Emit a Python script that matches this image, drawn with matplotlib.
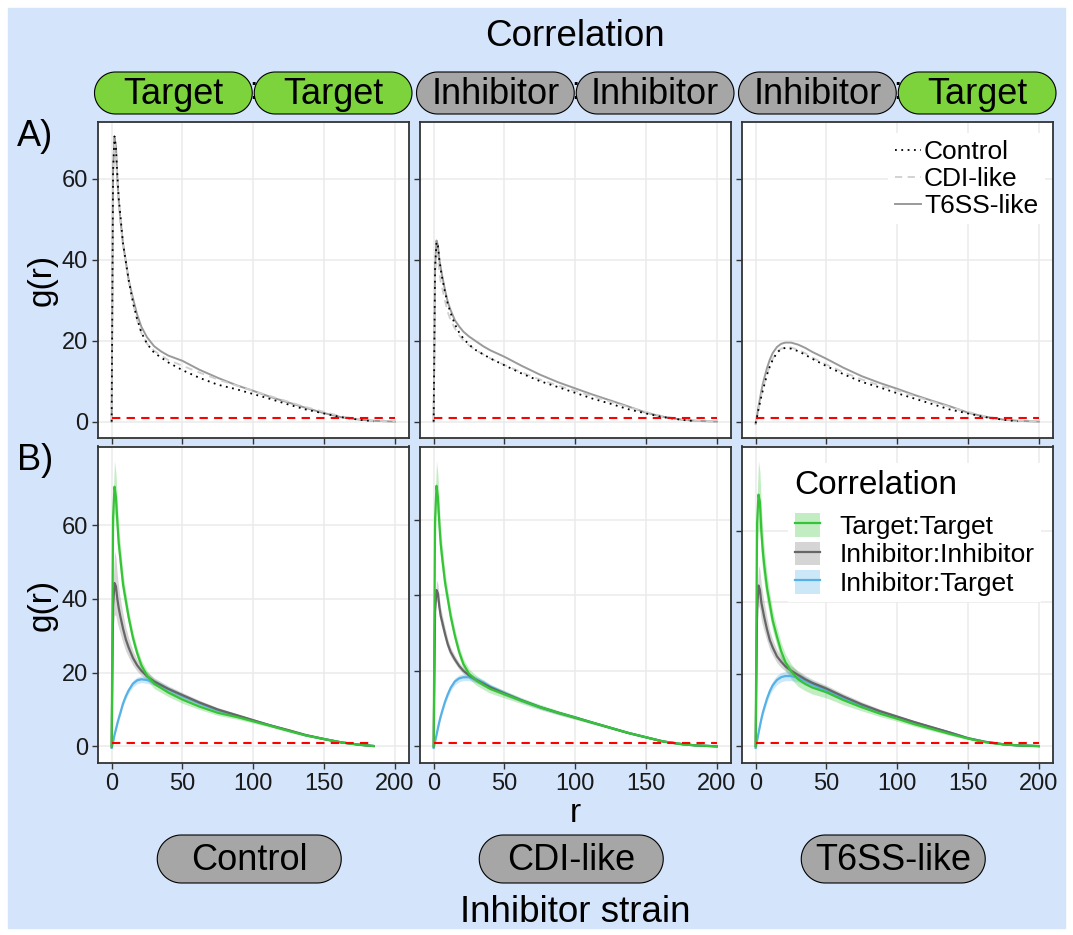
import numpy as np
import matplotlib
matplotlib.use('Agg')
import matplotlib.pyplot as plt
from matplotlib.patches import Polygon, Rectangle, Patch
from matplotlib.lines import Line2D

plt.rcParams['font.family'] = ['Liberation Sans', 'DejaVu Sans']

# radial distance grid; the control runs stop at r = 185
r = [0, 1, 2, 3, 4, 5, 6, 8, 10, 12, 15, 18, 21, 25, 30, 35, 40, 50, 62, 75,
     88, 100, 112, 125, 137, 150, 162, 175, 185, 200]
r_control = r[:-1]

strains = ['Control', 'CDI-like', 'T6SS-like']
pairs = ['Target:Target', 'Inhibitor:Inhibitor', 'Inhibitor:Target']
pair_strips = [('Target', 'Target'), ('Inhibitor', 'Inhibitor'), ('Inhibitor', 'Target')]

# mean g(r), Target:Target
tt_control = [0, 62, 70.4, 67.7, 61, 55, 51.5, 44, 39.5, 35, 29.5, 25.3, 22, 19.2, 17, 15.8,
              14.6, 12.7, 10.8, 9.1, 8.0, 6.8, 5.6, 4.2, 3.0, 2.0, 1.1, 0.45, 0.1]
tt_cdi = [0, 60, 69, 66, 59, 53.5, 50, 43.5, 39, 34.5, 29.3, 25, 21.8, 19.2, 17.5, 16.3,
          15.2, 13.8, 12.1, 10.4, 8.9, 7.6, 6.3, 4.9, 3.6, 2.4, 1.3, 0.6, 0.25, 0]
tt_t6ss = [0, 62, 70, 68, 60, 54.5, 50.5, 44, 39.5, 35, 30.5, 26.4, 23.4, 20.8, 18.6, 17.3,
           16.3, 15.0, 12.8, 10.8, 9.0, 7.6, 6.1, 4.7, 3.4, 2.1, 1.1, 0.5, 0.2, 0]

# mean g(r), Inhibitor:Inhibitor
ii_control = [0, 38, 44.3, 43.4, 40, 37.5, 35.5, 32, 29, 26.8, 24, 22, 20.5, 19, 17.6, 16.6,
              15.6, 13.9, 11.9, 10, 8.5, 7.1, 5.7, 4.4, 3.1, 2.0, 1.1, 0.45, 0.1]
ii_cdi = [0, 36, 41.4, 40.5, 37, 34.5, 33, 29.8, 27, 25, 23, 21.3, 20, 18.8, 17.6, 16.6,
          15.6, 14, 12.2, 10.4, 8.9, 7.6, 6.3, 4.9, 3.6, 2.4, 1.3, 0.6, 0.25, 0]
ii_t6ss = [0, 38, 44.7, 43.5, 40, 38, 36, 32.5, 29.5, 27.5, 25, 23.5, 22.2, 21, 19.8, 18.6,
           17.6, 16.0, 13.8, 11.6, 9.7, 8.2, 6.7, 5.2, 3.8, 2.2, 1.2, 0.5, 0.2, 0]

# mean g(r), Inhibitor:Target
it_control = [-0.4, 1.2, 3.1, 4.6, 6.2, 7.6, 8.9, 11.6, 13.6, 15.2, 17, 17.9, 18.2, 18.0, 17.4,
              16.5, 15.5, 13.7, 11.7, 9.8, 8.4, 7.0, 5.7, 4.3, 3.0, 2.0, 1.1, 0.45, 0.1]
it_cdi = [-0.4, 1.3, 3, 4.8, 6.5, 8, 9.3, 11.8, 13.8, 15.5, 17.2, 18, 18.3, 18.3, 17.7, 16.9,
          15.8, 14.1, 12.2, 10.4, 8.9, 7.7, 6.3, 4.9, 3.6, 2.4, 1.3, 0.6, 0.25, 0]
it_t6ss = [-0.5, 1.5, 3.6, 5.6, 7.5, 9.2, 10.6, 13.2, 15.3, 16.9, 18.4, 19.2, 19.5, 19.5, 19.0,
           18.2, 17.2, 15.5, 13.3, 11.2, 9.5, 8.1, 6.6, 5.1, 3.8, 2.2, 1.2, 0.5, 0.2, 0]

# half-width of the confidence band around each mean
tt_control_se = [0, 5, 7, 6.5, 5.5, 4.5, 4, 3, 2.5, 2, 1.7, 1.5, 1.4, 1.3, 1.3, 1.2, 1.1, 1.0,
                 0.8, 0.7, 0.6, 0.5, 0.4, 0.35, 0.3, 0.25, 0.2, 0.15, 0.1]
tt_cdi_se = [0, 5, 6.6, 6, 5, 4.2, 3.6, 2.8, 2.3, 2, 1.7, 1.5, 1.4, 1.3, 1.3, 1.2, 1.1, 1.0,
             0.8, 0.7, 0.6, 0.5, 0.4, 0.35, 0.3, 0.25, 0.2, 0.15, 0.1, 0.1]
tt_t6ss_se = [0, 7, 9.4, 8.5, 7, 6, 5, 4, 3.2, 2.8, 2.5, 2.3, 2.2, 2.1, 2.0, 1.9, 1.8, 1.6,
              1.3, 1.0, 0.8, 0.7, 0.6, 0.5, 0.4, 0.3, 0.25, 0.2, 0.15, 0.1]
ii_control_se = [0, 6, 8.6, 8, 6.5, 5.5, 4.8, 4, 3.2, 2.6, 2, 1.6, 1.3, 1.1, 1.0, 0.9, 0.8,
                 0.7, 0.6, 0.5, 0.45, 0.4, 0.35, 0.3, 0.25, 0.2, 0.15, 0.1, 0.1]
ii_cdi_se = [0, 2, 2.6, 2.6, 2.4, 2.2, 2, 1.7, 1.4, 1.2, 1.0, 0.9, 0.8, 0.8, 0.7, 0.7, 0.6,
             0.6, 0.5, 0.45, 0.4, 0.35, 0.3, 0.25, 0.2, 0.2, 0.15, 0.1, 0.1, 0.1]
ii_t6ss_se = [0, 4.5, 5.6, 5.5, 5, 4.5, 4, 3.2, 2.6, 2.2, 1.8, 1.6, 1.4, 1.3, 1.2, 1.1, 1.0,
              0.9, 0.8, 0.7, 0.6, 0.5, 0.4, 0.35, 0.3, 0.25, 0.2, 0.15, 0.1, 0.1]
it_control_se = [0.2, 0.3, 0.4, 0.5, 0.6, 0.6, 0.7, 0.7, 0.8, 0.8, 0.9, 0.9, 0.9, 0.9, 0.8,
                 0.8, 0.7, 0.6, 0.5, 0.45, 0.4, 0.35, 0.3, 0.25, 0.2, 0.2, 0.15, 0.1, 0.1]
it_cdi_se = [0.2, 0.3, 0.4, 0.5, 0.6, 0.6, 0.7, 0.7, 0.8, 0.8, 0.9, 0.9, 0.9, 0.9, 0.8,
             0.8, 0.7, 0.6, 0.5, 0.45, 0.4, 0.35, 0.3, 0.25, 0.2, 0.2, 0.15, 0.1, 0.1, 0.1]
it_t6ss_se = [0.2, 0.4, 0.5, 0.6, 0.7, 0.8, 0.9, 1.0, 1.1, 1.2, 1.3, 1.3, 1.3, 1.3, 1.2, 1.1,
              1.0, 0.9, 0.7, 0.6, 0.5, 0.4, 0.35, 0.3, 0.25, 0.2, 0.15, 0.1, 0.1, 0.1]

csr_level = 1  # g(r) of complete spatial randomness

curves = {
    ('Target:Target', 'Control'): (r_control, tt_control, tt_control_se),
    ('Target:Target', 'CDI-like'): (r, tt_cdi, tt_cdi_se),
    ('Target:Target', 'T6SS-like'): (r, tt_t6ss, tt_t6ss_se),
    ('Inhibitor:Inhibitor', 'Control'): (r_control, ii_control, ii_control_se),
    ('Inhibitor:Inhibitor', 'CDI-like'): (r, ii_cdi, ii_cdi_se),
    ('Inhibitor:Inhibitor', 'T6SS-like'): (r, ii_t6ss, ii_t6ss_se),
    ('Inhibitor:Target', 'Control'): (r_control, it_control, it_control_se),
    ('Inhibitor:Target', 'CDI-like'): (r, it_cdi, it_cdi_se),
    ('Inhibitor:Target', 'T6SS-like'): (r, it_t6ss, it_t6ss_se),
}

strain_style = {
    'Control': dict(color='black', linestyle=(0, (1, 2.5)), linewidth=1.3, zorder=4),
    'CDI-like': dict(color='#cfcfcf', linestyle=(0, (4, 3)), linewidth=1.3, zorder=3),
    'T6SS-like': dict(color='#9a9a9a', linestyle='-', linewidth=1.4, zorder=2),
}
pair_colour = {'Target:Target': '#35c435', 'Inhibitor:Inhibitor': '#666666',
               'Inhibitor:Target': '#56b1e6'}
pair_band = {'Target:Target': '#35c435', 'Inhibitor:Inhibitor': '#777777',
             'Inhibitor:Target': '#56b1e6'}
pill_colour = {'Target': '#7dd33c', 'Inhibitor': '#a6a6a6'}

W, H = 1073, 935
fig = plt.figure(figsize=(W / 100, H / 100), dpi=100)
fig.patch.set_facecolor('white')

# pixel-space overlay for background, strips and outer labels
ov = fig.add_axes([0, 0, 1, 1], zorder=-1)
ov.set_xlim(0, W)
ov.set_ylim(H, 0)
ov.axis('off')
ov.add_patch(Rectangle((8, 8), W - 16, H - 15, color='#d4e4fa', zorder=0))


def pill(x0, y0, w, h, fc):
    # stadium outline: straight sides with half-circle ends
    rad = h / 2
    t = np.linspace(-np.pi / 2, np.pi / 2, 40)
    right = np.column_stack([x0 + w - rad + rad * np.cos(t), y0 + rad + rad * np.sin(t)])
    left = np.column_stack([x0 + rad - rad * np.cos(t), y0 + rad - rad * np.sin(t)])
    ov.add_patch(Polygon(np.vstack([right, left]), closed=True, facecolor=fc,
                         edgecolor='black', linewidth=0.8, zorder=2))


col_x = [97.5, 419.5, 741.5]
col_w = 311.5
row_y = [(122, 438), (446.5, 763)]


def px_axes(x0, y0, y1, **kw):
    return fig.add_axes([x0 / W, 1 - y1 / H, col_w / W, (y1 - y0) / H], **kw)


def style_panel(ax):
    ax.set_facecolor('white')
    ax.grid(True, color='#ebebeb', linewidth=1.1)
    ax.set_axisbelow(True)
    for s in ax.spines.values():
        s.set_color('#333333')
        s.set_linewidth(1.3)
    ax.set_xticks([0, 50, 100, 150, 200])
    ax.set_yticks([0, 20, 40, 60])
    ax.tick_params(direction='out', length=4, width=1, color='#333333',
                   labelsize=17, labelcolor='#1a1a1a', pad=3)


axes_a, axes_b = [], []
for i in range(3):
    kw = {}
    if axes_a:
        kw = dict(sharex=axes_a[0], sharey=axes_a[0])
    axes_a.append(px_axes(col_x[i], *row_y[0], **kw))
for i in range(3):
    axes_b.append(px_axes(col_x[i], *row_y[1], sharex=axes_a[0]))

# row A: one panel per correlation, one line per inhibitor strain
for ax, pair in zip(axes_a, pairs):
    style_panel(ax)
    for strain in strains:
        rr, g, se = curves[(pair, strain)]
        ax.plot(rr, g, label=strain, **strain_style[strain])
    ax.plot([r[0], r[-1]], [csr_level, csr_level], color='red', linewidth=1.5,
            linestyle=(0, (4, 3)), zorder=5)
    ax.tick_params(labelbottom=False)

# row B: one panel per inhibitor strain, one band + line per correlation
for ax, strain in zip(axes_b, strains):
    style_panel(ax)
    for pair in pairs:
        rr, g, se = curves[(pair, strain)]
        lo = [m - s for m, s in zip(g, se)]
        hi = [m + s for m, s in zip(g, se)]
        ax.fill_between(rr, lo, hi, color=pair_band[pair], alpha=0.3, linewidth=0, zorder=1)
    for pair in ['Inhibitor:Target', 'Inhibitor:Inhibitor', 'Target:Target']:
        rr, g, se = curves[(pair, strain)]
        ax.plot(rr, g, color=pair_colour[pair], linewidth=1.6, zorder=3)
    rr = curves[('Target:Target', strain)][0]
    ax.plot([rr[0], rr[-1]], [csr_level, csr_level], color='red', linewidth=1.5,
            linestyle=(0, (4, 3)), zorder=5)

for ax in axes_a[1:] + axes_b[1:]:
    ax.tick_params(labelleft=False)

axes_a[0].margins(x=0.05, y=0.05)

# legends
h_a = [Line2D([], [], **{k: v for k, v in strain_style[s].items() if k != 'zorder'})
       for s in strains]
axes_a[2].legend(h_a, strains, loc='upper right', bbox_to_anchor=(0.995, 0.985),
                 fontsize=19, frameon=True, facecolor='white', edgecolor='none',
                 framealpha=1, fancybox=False, handlelength=1.0, handletextpad=0.1,
                 labelspacing=0.11, borderpad=0.25, borderaxespad=0.25)

h_b = [(Patch(facecolor=pair_band[p], alpha=0.3, edgecolor='none'),
        Line2D([], [], color=pair_colour[p], linewidth=1.6)) for p in pairs]
leg = axes_b[2].legend(h_b, pairs, loc='upper left',
                       bbox_to_anchor=((788 - col_x[2]) / col_w, 0.948),
                       fontsize=19, title='Correlation', title_fontsize=24,
                       alignment='left', frameon=True, facecolor='white',
                       edgecolor='none', framealpha=1, fancybox=False,
                       handlelength=0.95, handleheight=1.0, handletextpad=0.75,
                       labelspacing=0.1, borderpad=0.25, borderaxespad=0)
leg._legend_box.sep = 9  # extra room under the legend title

# facet strips: correlation pairs on top
for i, (left, right) in enumerate(pair_strips):
    x0 = col_x[i] - 3
    x1 = col_x[i] + col_w + 3
    mid = (x0 + x1) / 2
    ov.text(mid, 91, ':', fontsize=22, ha='center', va='center', zorder=1)
    for lab, a, b in [(left, x0, mid - 1), (right, mid + 1, x1)]:
        pill(a, 72, b - a, 42, pill_colour[lab])
        ov.text((a + b) / 2, 94, lab, fontsize=26, ha='center', va='center', zorder=3)

# facet strips: inhibitor strain below
for i, strain in enumerate(strains):
    cx = col_x[i] + col_w / 2 - 4
    pill(cx - 92, 835, 184, 48, '#a6a6a6')
    ov.text(cx, 860, strain, fontsize=26, ha='center', va='center', zorder=3)

mid_x = (col_x[0] + col_x[2] + col_w) / 2
ov.text(mid_x, 37, 'Correlation', fontsize=26.5, ha='center', va='center')
ov.text(mid_x, 813, 'r', fontsize=24, ha='center', va='center')
ov.text(mid_x, 913, 'Inhibitor strain', fontsize=26.5, ha='center', va='center')
for (y0, y1), tag in zip(row_y, ['A)', 'B)']):
    ov.text(42, (y0 + y1) / 2, 'g(r)', fontsize=24, rotation=90, ha='center', va='center')
    ov.text(35, y0 + 14, tag, fontsize=26, ha='center', va='center')

fig.savefig('out.png', dpi=100)
